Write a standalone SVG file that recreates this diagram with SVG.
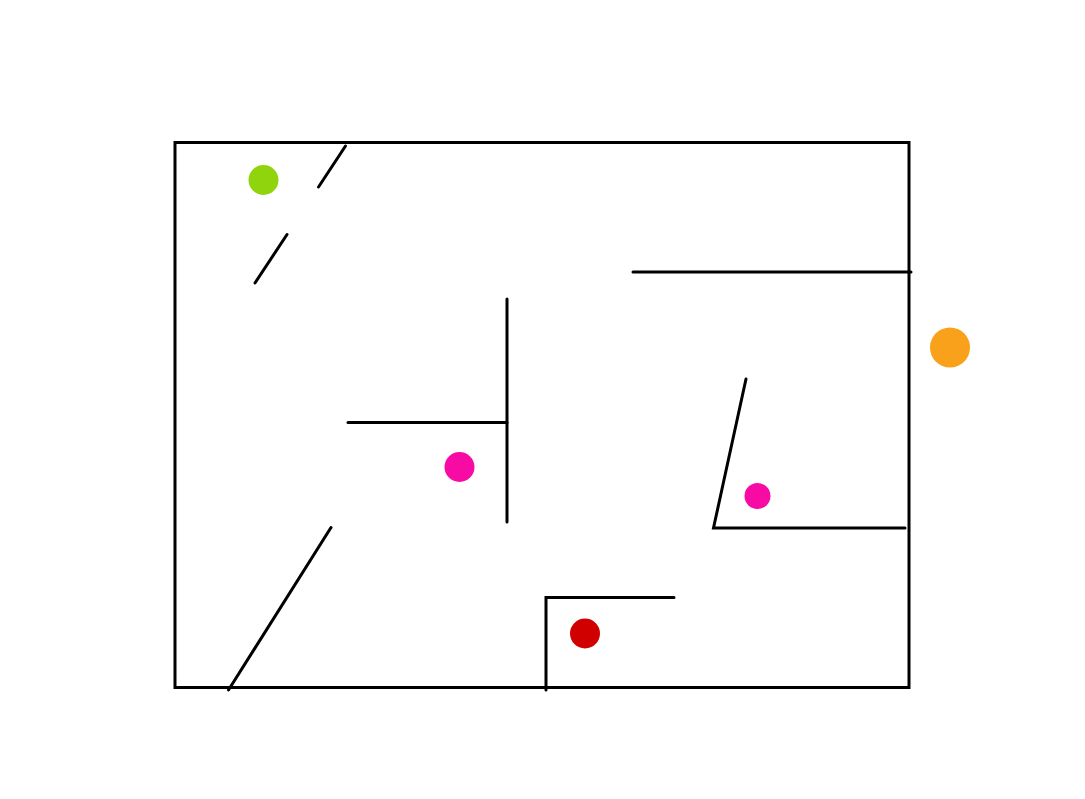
<svg xmlns="http://www.w3.org/2000/svg" width="1085" height="799" viewBox="0 0 1085 799">
<style>
.w{stroke:#000;stroke-width:3;fill:none;stroke-linecap:round;stroke-linejoin:miter}
</style>
<rect width="1085" height="799" fill="#fff"/>
<g id="walls">
<rect class="w" x="175" y="142.5" width="734" height="545" style="stroke-linecap:butt"/>
<line class="w" x1="345.5" y1="146" x2="318.5" y2="187"/>
<line class="w" x1="287" y1="234.5" x2="255" y2="283"/>
<line class="w" x1="633" y1="272" x2="911" y2="272"/>
<line class="w" x1="507" y1="299" x2="507" y2="522"/>
<line class="w" x1="348" y1="422.5" x2="507" y2="422.5"/>
<polyline class="w" points="746,379 713.5,528 905,528"/>
<line class="w" x1="331" y1="527.5" x2="228.5" y2="690"/>
<polyline class="w" points="546,690 546,597.5 674,597.5"/>
</g>
<g id="dots">
<circle cx="263.5" cy="180" r="15" fill="#8fd40c"/>
<circle cx="950" cy="347.5" r="20" fill="#f9a11b"/>
<circle cx="459.5" cy="467" r="15" fill="#f80aa5"/>
<circle cx="757.5" cy="496" r="13" fill="#f80aa5"/>
<circle cx="585" cy="633.5" r="15" fill="#d10000"/>
</g>
</svg>
